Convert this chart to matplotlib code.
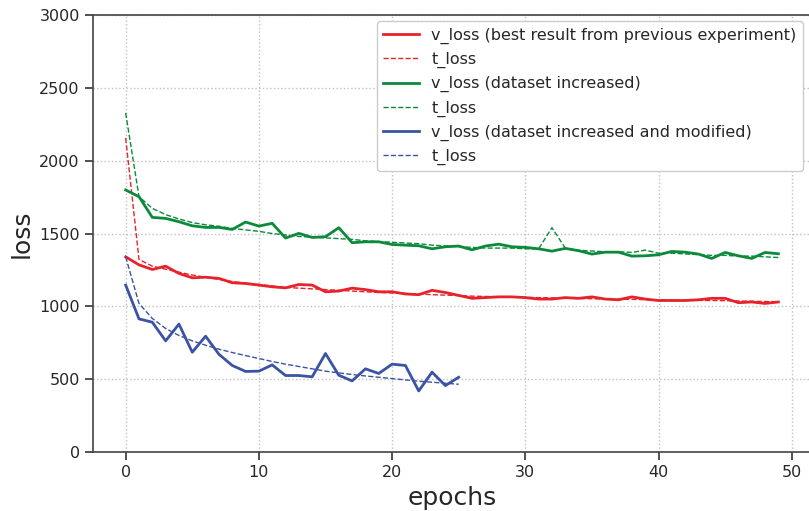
import numpy as np
import matplotlib
matplotlib.use("Agg")
import matplotlib.pyplot as plt

# loss per epoch for the three training runs
v_loss_prev = [1340, 1285, 1253, 1276, 1226, 1196, 1200, 1192, 1162, 1157,
               1146, 1134, 1127, 1150, 1146, 1100, 1105, 1125, 1115, 1100,
               1100, 1085, 1080, 1110, 1095, 1075, 1055, 1060, 1065, 1065,
               1060, 1050, 1050, 1060, 1055, 1065, 1050, 1045, 1065, 1050,
               1040, 1040, 1040, 1045, 1055, 1055, 1025, 1030, 1020, 1030]
t_loss_prev = [2156, 1322, 1276, 1255, 1235, 1215, 1200, 1185, 1170, 1160,
               1150, 1140, 1130, 1125, 1120, 1115, 1110, 1105, 1100, 1095,
               1092, 1088, 1085, 1080, 1077, 1074, 1070, 1068, 1066, 1064,
               1062, 1060, 1058, 1056, 1054, 1052, 1050, 1049, 1048, 1046,
               1044, 1043, 1042, 1041, 1040, 1039, 1037, 1035, 1033, 1032]

v_loss_inc = [1799, 1753, 1611, 1604, 1581, 1553, 1542, 1542, 1528, 1579,
              1551, 1570, 1469, 1501, 1473, 1478, 1540, 1437, 1443, 1443,
              1425, 1420, 1416, 1395, 1409, 1414, 1388, 1414, 1427, 1409,
              1405, 1395, 1379, 1398, 1382, 1359, 1372, 1372, 1345, 1347,
              1354, 1377, 1372, 1359, 1329, 1370, 1347, 1329, 1370, 1361]
t_loss_inc = [2328, 1753, 1673, 1630, 1600, 1575, 1560, 1550, 1535, 1525,
              1515, 1500, 1490, 1480, 1475, 1470, 1465, 1460, 1450, 1445,
              1440, 1435, 1430, 1420, 1415, 1410, 1405, 1400, 1400, 1400,
              1395, 1395, 1540, 1400, 1385, 1380, 1375, 1375, 1370, 1386,
              1365, 1365, 1360, 1355, 1350, 1350, 1345, 1345, 1340, 1335]

v_loss_mod = [1146, 914, 891, 763, 878, 685, 795, 671, 594, 553,
              555, 598, 525, 525, 516, 676, 527, 488, 571, 539,
              603, 594, 419, 548, 456, 513]
t_loss_mod = [1340, 1020, 917, 848, 800, 763, 733, 706, 683, 662,
              642, 621, 603, 587, 571, 555, 543, 532, 522, 513,
              504, 495, 486, 479, 472, 465]

RED, GREEN, BLUE = '#e8222a', '#0b8a3b', '#3a53a4'

fig = plt.figure(figsize=(8.09, 5.11), dpi=100)
ax = fig.add_axes([0.115, 0.1155, 0.8875, 0.855])

runs = [
    (v_loss_prev, t_loss_prev, RED, 'v_loss (best result from previous experiment)'),
    (v_loss_inc, t_loss_inc, GREEN, 'v_loss (dataset increased)'),
    (v_loss_mod, t_loss_mod, BLUE, 'v_loss (dataset increased and modified)'),
]
for v, t, c, lab in runs:
    ax.plot(np.arange(len(v)), v, color=c, lw=2, label=lab)
    ax.plot(np.arange(len(t)), t, color=c, lw=1, ls='--', label='t_loss')

ax.set_xlim(-2.45, 51.45)
ax.set_ylim(0, 3000)
ax.set_xticks([0, 10, 20, 30, 40, 50])
ax.set_yticks(range(0, 3001, 500))
ax.grid(True, ls=':', color='#c0c0c0', lw=1)
ax.tick_params(labelsize=11.5, length=6, width=1.2, color='#333333',
               labelcolor='#262626', direction='out')
for side in ['left', 'bottom', 'top', 'right']:
    ax.spines[side].set_color('#444444')
    ax.spines[side].set_linewidth(1.2)

ax.set_xlabel('epochs', fontsize=18, color='#262626')
ax.set_ylabel('loss', fontsize=18, color='#262626')

leg = ax.legend(loc='upper right', fontsize=11.5, handlelength=2.2,
                borderaxespad=0.4, labelspacing=0.5, framealpha=1,
                edgecolor='#cccccc', fancybox=True,
                bbox_to_anchor=(0.9977, 1.0))
for txt in leg.get_texts():
    txt.set_color('#262626')

fig.savefig('out.png', dpi=100)
